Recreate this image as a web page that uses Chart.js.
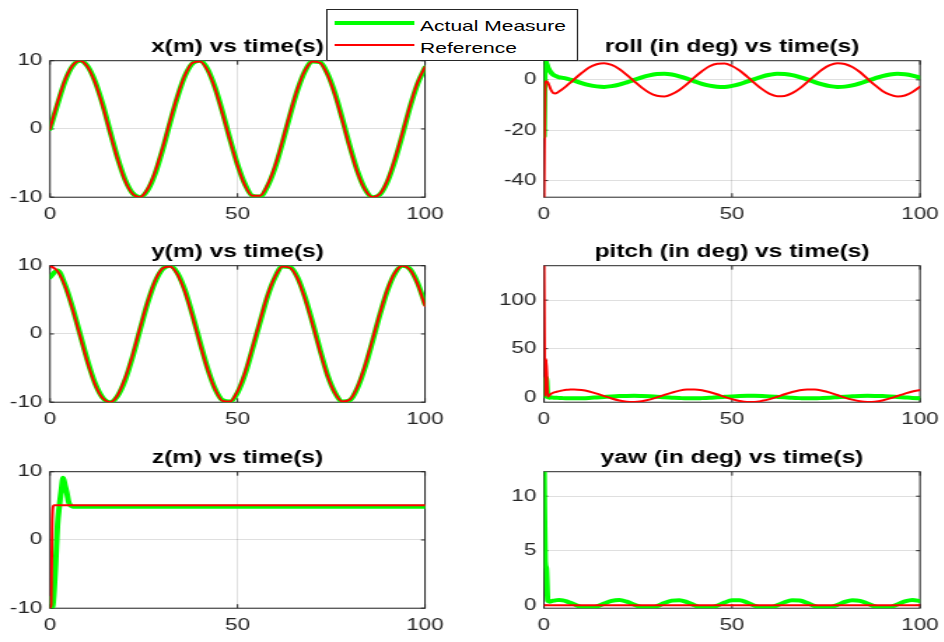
<!DOCTYPE html>
<html>
<head>
<meta charset="utf-8">
<script src="https://cdn.jsdelivr.net/npm/chart.js@4.4.1/dist/chart.umd.min.js"></script>
<style>
  html, body { margin: 0; padding: 0; background: #fff; overflow: hidden; }
  body { width: 944px; height: 642px; position: relative; }
  #page { position: absolute; left: 0; top: 0; width: 674.2857px; height: 642px; transform: scaleX(1.4); transform-origin: 0 0; }
  .panel { position: absolute; }
  #legend { position: absolute; background: #fff; border: 1px solid #262626; box-sizing: border-box; z-index: 5;
            font-family: 'Liberation Sans', Arial, sans-serif; font-size: 15px; color: #000; }
  .swatch { position: absolute; }
  .label { position: absolute; line-height: 1; white-space: nowrap; transform: translateY(-50%); }
</style>
</head>
<body>
<div id="page">
  <div id="legend"></div>
</div>
<script>
// the screenshot is stretched sideways, so the whole page is drawn narrow and scaled in x
const STRETCH = 1.4;

const legendLabels = ["Actual Measure", "Reference"];
const timeTicks = [0, 50, 100];
const xyzTicks = [-10, 0, 10];
const rollTicks = [-40, -20, 0];
const pitchTicks = [0, 50, 100];
const yawTicks = [0, 5, 10];

// time in seconds
const timeCoarse = [0, 2, 4, 6, 8, 10, 12, 14, 16, 18, 20, 22, 24, 26, 28, 30, 32, 34, 36, 38,
    40, 42, 44, 46, 48, 50, 52, 54, 56, 58, 60, 62, 64, 66, 68, 70, 72, 74, 76, 78,
    80, 82, 84, 86, 88, 90, 92, 94, 96, 98, 100];
const timeFine = [0, 0.3, 0.6, 1, 1.5, 2, 2.5, 3, 3.5, 4, 4.5, 5, 6, 7, 8,
    10, 12, 14, 16, 18, 20, 22, 24, 26, 28, 30, 32, 34, 36, 38,
    40, 42, 44, 46, 48, 50, 52, 54, 56, 58, 60, 62, 64, 66, 68, 70, 72, 74, 76, 78,
    80, 82, 84, 86, 88, 90, 92, 94, 96, 98, 100];

// x (m), on timeCoarse
const xActual = [0, 3.6, 7.0, 9.2, 10, 9.2, 7.0, 3.7, -0.3, -4.2,
    -7.4, -9.4, -10, -9.0, -6.6, -3.1, 0.9, 4.7, 7.8, 9.6,
    10, 8.8, 6.1, 2.5, -1.5, -5.2, -8.1, -9.8, -9.9, -8.4,
    -5.7, -2.0, 2.0, 5.7, 8.5, 9.9, 9.8, 8.1, 5.2, 1.4,
    -2.6, -6.2, -8.8, -10, -9.6, -7.7, -4.6, -0.8, 3.2, 6.6, 9.0];
const xReference = [0, 3.9, 7.2, 9.3, 10, 9.1, 6.8, 3.4, -0.6, -4.4,
    -7.6, -9.5, -10, -8.8, -6.3, -2.8, 1.2, 4.9, 7.9, 9.7,
    9.9, 8.6, 5.9, 2.2, -1.7, -5.4, -8.3, -9.8, -9.8, -8.2,
    -5.4, -1.7, 2.3, 5.9, 8.6, 9.9, 9.7, 7.9, 4.9, 1.1,
    -2.9, -6.4, -8.9, -10, -9.5, -7.5, -4.3, -0.5, 3.4, 6.8, 9.1];

// y (m), on timeCoarse
const yActual = [8.3, 9.3, 7.2, 3.9, 0, -3.9, -7.2, -9.3, -10, -9.1,
    -6.8, -3.4, 0.6, 4.5, 7.6, 9.5, 10, 8.9, 6.4, 2.8,
    -1.2, -5.0, -8.0, -9.7, -9.9, -8.6, -5.9, -2.2, 1.7, 5.5,
    8.3, 9.9, 9.8, 8.3, 5.4, 1.7, -2.3, -6.0, -8.6, -9.9,
    -9.7, -7.9, -4.9, -1.1, 2.9, 6.4, 8.9, 10, 9.5, 7.5, 4.4];
const yReference = [10, 9.2, 7.0, 3.6, -0.3, -4.2, -7.4, -9.4, -10, -9.0,
    -6.5, -3.1, 0.9, 4.7, 7.8, 9.6, 9.9, 8.7, 6.1, 2.5,
    -1.5, -5.2, -8.1, -9.8, -9.9, -8.4, -5.6, -1.9, 2.0, 5.7,
    8.4, 9.9, 9.7, 8.1, 5.1, 1.4, -2.6, -6.2, -8.7, -9.9,
    -9.6, -7.7, -4.6, -0.8, 3.1, 6.6, 9.0, 10, 9.4, 7.3, 4.1];

// z (m), on timeFine
const zActual = [-8.5, -9.5, -10, -8.2, -3.5, 2.2, 5.0, 7.2, 9.1, 8.0, 6.9, 5.5, 4.9, 4.85, 4.85,
    4.85, 4.85, 4.85, 4.85, 4.85, 4.85, 4.85, 4.85, 4.85, 4.85,
    4.85, 4.85, 4.85, 4.85, 4.85, 4.85, 4.85, 4.85, 4.85, 4.85,
    4.85, 4.85, 4.85, 4.85, 4.85, 4.85, 4.85, 4.85, 4.85, 4.85,
    4.85, 4.85, 4.85, 4.85, 4.85, 4.85, 4.85, 4.85, 4.85, 4.85,
    4.85, 4.85, 4.85, 4.85, 4.85, 4.85];
const zReference = [-10, -9.5, 3, 5.1, 5.1, 5.1, 5.1, 5.1, 5.1, 5.1, 5.1, 5.1, 5.1, 5.1, 5.1,
    5.1, 5.1, 5.1, 5.1, 5.1, 5.1, 5.1, 5.1, 5.1, 5.1,
    5.1, 5.1, 5.1, 5.1, 5.1, 5.1, 5.1, 5.1, 5.1, 5.1,
    5.1, 5.1, 5.1, 5.1, 5.1, 5.1, 5.1, 5.1, 5.1, 5.1,
    5.1, 5.1, 5.1, 5.1, 5.1, 5.1, 5.1, 5.1, 5.1, 5.1,
    5.1, 5.1, 5.1, 5.1, 5.1, 5.1];

// roll (deg), on timeFine
const rollActual = [-22.4, 7.6, 6.8, 5.0, 3.6, 2.7, 2.0, 1.6, 1.3, 1.0, 0.9, 0.8, 0.5, 0.1, -0.3,
    -1.3, -2.1, -2.6, -2.8, -2.5, -1.9, -1.0, 0.0, 1.0, 1.8,
    2.3, 2.4, 2.1, 1.4, 0.5, -0.6, -1.6, -2.3, -2.7, -2.8,
    -2.4, -1.7, -0.7, 0.3, 1.3, 2.0, 2.4, 2.3, 1.9, 1.1,
    0.2, -0.9, -1.8, -2.5, -2.8, -2.7, -2.2, -1.4, -0.4, 0.6,
    1.5, 2.1, 2.4, 2.2, 1.7, 0.9];
const rollReference = [-46.6, -1.5, -0.6, -1.0, -2.8, -4.4, -5.3, -5.4, -5.1, -4.6, -4.1, -3.6, -2.4, -1.1, 0.2,
    2.7, 4.9, 6.2, 6.6, 5.9, 4.3, 2.0, -0.6, -3.1, -5.1,
    -6.3, -6.6, -5.7, -4.0, -1.7, 1.0, 3.4, 5.4, 6.4, 6.5,
    5.5, 3.7, 1.3, -1.3, -3.7, -5.6, -6.5, -6.4, -5.3, -3.4,
    -0.9, 1.7, 4.1, 5.8, 6.6, 6.3, 5.1, 3.1, 0.5, -2.1,
    -4.4, -5.9, -6.6, -6.2, -4.8, -2.7];

// pitch (deg), on timeFine
const pitchActual = [1, 3, 20, 0, -0.5, -0.4, -0.5, -0.6, -0.7, -0.8, -0.9, -1.0, -1.1, -1.2, -1.2,
    -1.1, -0.8, -0.3, 0.2, 0.7, 1.1, 1.3, 1.4, 1.2, 0.9,
    0.5, -0.1, -0.5, -0.9, -1.2, -1.2, -1.0, -0.7, -0.2, 0.3,
    0.8, 1.2, 1.4, 1.4, 1.2, 0.8, 0.3, -0.2, -0.7, -1.0,
    -1.2, -1.2, -0.9, -0.5, 0.0, 0.5, 0.9, 1.3, 1.4, 1.3,
    1.1, 0.7, 0.2, -0.3, -0.8, -1.1];
const pitchReference = [135.5, 1, 39, 0.5, 2.2, 3.8, 4.6, 5.2, 5.7, 6.2, 6.6, 7.0, 7.6, 7.9, 8.0,
    7.4, 5.9, 3.7, 1.1, -1.4, -3.4, -4.7, -5.0, -4.2, -2.6,
    -0.3, 2.3, 4.7, 6.7, 7.8, 7.9, 7.1, 5.3, 3.0, 0.4,
    -2.0, -3.9, -4.9, -4.9, -3.8, -2.0, 0.4, 3.0, 5.3, 7.1,
    7.9, 7.8, 6.6, 4.7, 2.2, -0.4, -2.6, -4.3, -5.0, -4.7,
    -3.4, -1.3, 1.2, 3.7, 5.9, 7.4];

// yaw (deg), on timeFine
const yawActual = [12.25, 4, 3.4, 0.4, 0.31, 0.37, 0.41, 0.44, 0.46, 0.47, 0.46, 0.44, 0.35, 0.22, 0.08,
    -0.18, -0.27, -0.13, 0.14, 0.39, 0.47, 0.32, 0.04, -0.21, -0.26,
    -0.10, 0.19, 0.42, 0.46, 0.28, -0.01, -0.23, -0.25, -0.06, 0.23,
    0.44, 0.44, 0.24, -0.05, -0.25, -0.23, -0.02, 0.27, 0.45, 0.43,
    0.20, -0.09, -0.26, -0.21, 0.02, 0.30, 0.46, 0.40, 0.16, -0.12,
    -0.27, -0.19, 0.06, 0.34, 0.47, 0.38];
const yawReference = [0, 0, 0, 0, 0, 0, 0, 0, 0, 0, 0, 0, 0, 0, 0,
    0, 0, 0, 0, 0, 0, 0, 0, 0, 0,
    0, 0, 0, 0, 0, 0, 0, 0, 0, 0,
    0, 0, 0, 0, 0, 0, 0, 0, 0, 0,
    0, 0, 0, 0, 0, 0, 0, 0, 0, 0,
    0, 0, 0, 0, 0, 0];

const actualColor = "#00ff00";
const referenceColor = "#ff0000";
const inkColor = "#262626";
const gridColor = "rgba(38, 38, 38, 0.15)";
const fontFamily = "'Liberation Sans', Arial, Helvetica, sans-serif";

// axes boxes in screenshot pixels
const colEdges = [[50, 425], [544, 920]];
const rowTops = [60.7, 265.7, 471.7];
const plotHeight = 136.5;

const panels = [
    { title: "x(m) vs time(s)", col: 0, row: 0, time: timeCoarse, actual: xActual, reference: xReference, min: -10, max: 10, ticks: xyzTicks },
    { title: "roll (in deg) vs time(s)", col: 1, row: 0, time: timeFine, actual: rollActual, reference: rollReference, min: -46.6, max: 7.6, ticks: rollTicks },
    { title: "y(m) vs time(s)", col: 0, row: 1, time: timeCoarse, actual: yActual, reference: yReference, min: -10, max: 10, ticks: xyzTicks },
    { title: "pitch (in deg) vs time(s)", col: 1, row: 1, time: timeFine, actual: pitchActual, reference: pitchReference, min: -5.2, max: 135.5, ticks: pitchTicks },
    { title: "z(m) vs time(s)", col: 0, row: 2, time: timeFine, actual: zActual, reference: zReference, min: -10, max: 10, ticks: xyzTicks },
    { title: "yaw (in deg) vs time(s)", col: 1, row: 2, time: timeFine, actual: yawActual, reference: yawReference, min: -0.28, max: 12.25, ticks: yawTicks }
];

// matlab style box with inward ticks on all four sides
const axesBox = {
    id: "axesBox",
    beforeDatasetsDraw(chart) {
        const { ctx, chartArea: a, scales } = chart;
        ctx.save();
        ctx.strokeStyle = inkColor;
        ctx.lineWidth = 1;
        ctx.strokeRect(a.left, a.top, a.right - a.left, a.bottom - a.top);
        ctx.beginPath();
        scales.x.ticks.forEach(t => {
            const px = scales.x.getPixelForValue(t.value);
            ctx.moveTo(px, a.bottom); ctx.lineTo(px, a.bottom - 4);
            ctx.moveTo(px, a.top); ctx.lineTo(px, a.top + 4);
        });
        scales.y.ticks.forEach(t => {
            const py = scales.y.getPixelForValue(t.value);
            ctx.moveTo(a.left, py); ctx.lineTo(a.left + 4 / STRETCH, py);
            ctx.moveTo(a.right, py); ctx.lineTo(a.right - 4 / STRETCH, py);
        });
        ctx.stroke();
        ctx.restore();
    }
};

const page = document.getElementById("page");
const TITLE_SIZE = 17.5, TITLE_GAP = 3.5, X_AXIS_H = 30;

panels.forEach(p => {
    const plotLeft = colEdges[p.col][0] / STRETCH;
    const plotRight = colEdges[p.col][1] / STRETCH;
    const plotTop = rowTops[p.row];
    const plotBottom = plotTop + plotHeight;

    const boxLeft = p.col === 0 ? 0 : 340;
    const boxWidth = p.col === 0 ? 322 : 334;
    const boxTop = Math.floor(plotTop - 28);
    const boxHeight = 200;
    const titleH = TITLE_SIZE * 1.2 + TITLE_GAP;

    const div = document.createElement("div");
    div.className = "panel";
    div.style.left = boxLeft + "px";
    div.style.top = boxTop + "px";
    div.style.width = boxWidth + "px";
    div.style.height = boxHeight + "px";
    const canvas = document.createElement("canvas");
    div.appendChild(canvas);
    page.appendChild(div);

    const yWidth = plotLeft - boxLeft;

    new Chart(canvas, {
        type: "line",
        data: {
            datasets: [
                {
                    label: legendLabels[0],
                    data: p.time.map((t, i) => ({ x: t, y: p.actual[i] })),
                    borderColor: actualColor,
                    borderWidth: 4,
                    order: 1,
                    clip: 0
                },
                {
                    label: legendLabels[1],
                    data: p.time.map((t, i) => ({ x: t, y: p.reference[i] })),
                    borderColor: referenceColor,
                    borderWidth: 2,
                    order: 0,
                    clip: 0
                }
            ]
        },
        options: {
            responsive: true,
            maintainAspectRatio: false,
            animation: false,
            devicePixelRatio: 1,
            layout: {
                padding: {
                    left: 0,
                    top: plotTop - titleH - boxTop,
                    right: boxLeft + boxWidth - plotRight,
                    bottom: boxTop + boxHeight - plotBottom - X_AXIS_H
                }
            },
            elements: {
                point: { radius: 0 },
                line: { cubicInterpolationMode: "monotone", borderJoinStyle: "round", borderCapStyle: "round" }
            },
            plugins: {
                legend: { display: false },
                tooltip: { enabled: false },
                title: {
                    display: true,
                    text: p.title,
                    fullSize: false,
                    color: "#000",
                    font: { family: fontFamily, size: TITLE_SIZE, weight: "bold", lineHeight: 1.2 },
                    padding: { top: 0, bottom: TITLE_GAP }
                }
            },
            scales: {
                x: {
                    type: "linear",
                    min: 0,
                    max: 100,
                    afterBuildTicks: s => { s.ticks = timeTicks.map(v => ({ value: v })); },
                    afterFit: s => { s.height = X_AXIS_H; s.paddingLeft = 0; s.paddingRight = 0; },
                    grid: { color: gridColor, drawTicks: false },
                    border: { display: false },
                    ticks: {
                        padding: 7.5, color: inkColor, maxRotation: 0, autoSkip: false,
                        font: { family: fontFamily, size: 16 },
                        callback: v => String(v)
                    }
                },
                y: {
                    type: "linear",
                    min: p.min,
                    max: p.max,
                    afterBuildTicks: s => { s.ticks = p.ticks.map(v => ({ value: v })); },
                    afterFit: s => { s.width = yWidth; s.paddingTop = 0; s.paddingBottom = 0; },
                    grid: { color: gridColor, drawTicks: false },
                    border: { display: false },
                    ticks: {
                        padding: 5.5, color: inkColor, autoSkip: false,
                        font: { family: fontFamily, size: 16 },
                        callback: v => String(v)
                    }
                }
            }
        },
        plugins: [axesBox]
    });
});

// legend box, top centre, over the first title row
const legend = document.getElementById("legend");
const legendBox = { left: 325.7, top: 9.3, right: 578.3, bottom: 61 };
legend.style.left = legendBox.left / STRETCH + "px";
legend.style.top = legendBox.top + "px";
legend.style.width = (legendBox.right - legendBox.left) / STRETCH + "px";
legend.style.height = (legendBox.bottom - legendBox.top) + "px";
const legendColors = [actualColor, referenceColor];
const legendWidths = [4, 2];
const legendRows = [13, 35];
legendLabels.forEach((label, i) => {
    const sw = document.createElement("div");
    sw.className = "swatch";
    sw.style.left = "5.6px";
    sw.style.width = "57.1px";
    sw.style.top = (legendRows[i] - legendWidths[i] / 2) + "px";
    sw.style.height = legendWidths[i] + "px";
    sw.style.backgroundColor = legendColors[i];
    legend.appendChild(sw);
    const tx = document.createElement("div");
    tx.className = "label";
    tx.textContent = label;
    tx.style.left = "66.4px";
    tx.style.top = (legendRows[i] + 1.5) + "px";
    legend.appendChild(tx);
});
</script>
</body>
</html>
